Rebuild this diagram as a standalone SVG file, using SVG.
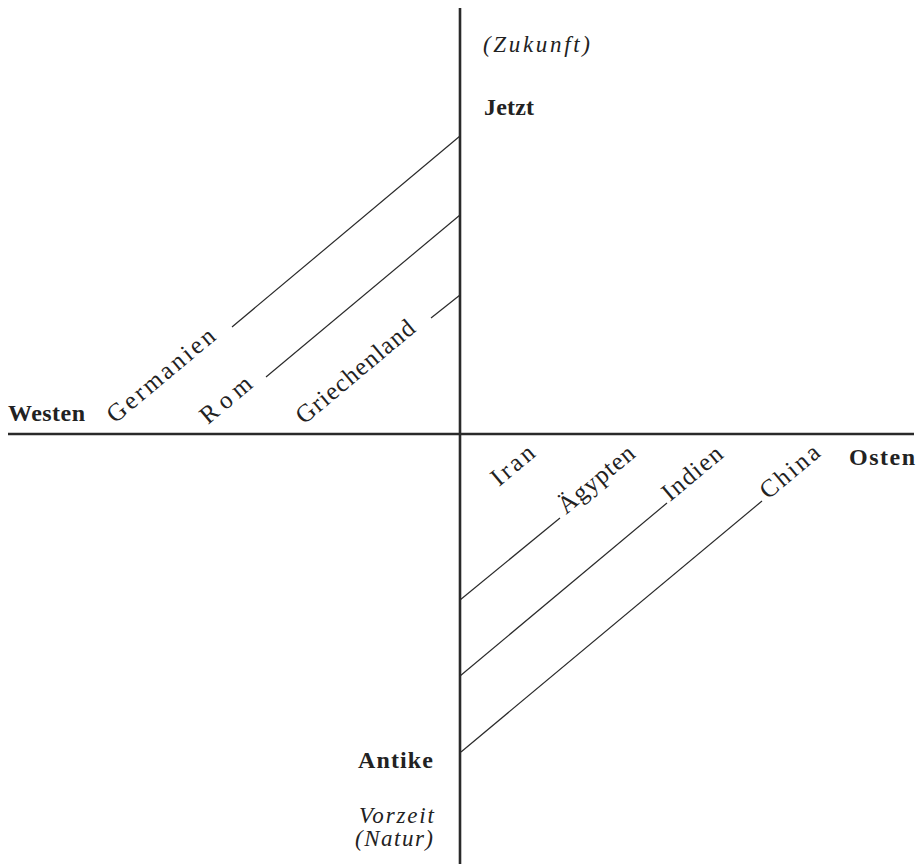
<svg xmlns="http://www.w3.org/2000/svg" width="920" height="864" viewBox="0 0 920 864">
<style>
text{font-family:"Liberation Serif","DejaVu Serif",serif;font-size:24px;fill:#222;}
.b{font-weight:bold;}
.i{font-style:italic;font-size:23px;}
.r{font-size:25px;}
.axis{stroke:#2a2a2a;stroke-width:2.6;fill:none;}
.ln{stroke:#2a2a2a;stroke-width:1.2;fill:none;}
</style>
<rect width="920" height="864" fill="#fff"/>
<g id="connectors">
<line class="axis" x1="460" y1="8" x2="460" y2="864"/>
<line class="axis" x1="8" y1="434" x2="914" y2="434"/>
<line class="ln" x1="460" y1="136" x2="232" y2="327"/>
<line class="ln" x1="460" y1="215" x2="266" y2="377"/>
<line class="ln" x1="460" y1="295" x2="431" y2="318"/>
<line class="ln" x1="460" y1="600" x2="560" y2="518"/>
<line class="ln" x1="460" y1="676" x2="667" y2="503"/>
<line class="ln" x1="461" y1="752" x2="762" y2="501"/>
</g>
<g id="zukunft"><text class="i" x="483" y="52" textLength="107" lengthAdjust="spacing">(Zukunft)</text></g>
<g id="jetzt"><text class="b" x="484" y="115" textLength="50" lengthAdjust="spacing">Jetzt</text></g>
<g id="westen"><text class="b" x="8" y="421" textLength="77" lengthAdjust="spacing">Westen</text></g>
<g id="osten"><text class="b" x="849" y="465" textLength="66" lengthAdjust="spacing">Osten</text></g>
<g id="antike"><text class="b" x="358" y="768" textLength="75" lengthAdjust="spacing">Antike</text></g>
<g id="vorzeit"><text class="i" x="359" y="823" textLength="75" lengthAdjust="spacing">Vorzeit</text></g>
<g id="natur"><text class="i" x="355" y="846" textLength="78" lengthAdjust="spacing">(Natur)</text></g>
<g id="germanien"><text class="r" transform="translate(115,424) rotate(-39.9)" textLength="133" lengthAdjust="spacing">Germanien</text></g>
<g id="rom"><text class="r" transform="translate(208,425) rotate(-39.9)" textLength="60" lengthAdjust="spacing">Rom</text></g>
<g id="griechenland"><text class="r" transform="translate(304,425) rotate(-39.9)" textLength="147" lengthAdjust="spacing">Griechenland</text></g>
<g id="iran"><text class="r" transform="translate(499,487) rotate(-39.9)" textLength="49" lengthAdjust="spacing">Iran</text></g>
<g id="aegypten"><text class="r" transform="translate(566,515) rotate(-39.9)" textLength="92" lengthAdjust="spacing">Ägypten</text></g>
<g id="indien"><text class="r" transform="translate(670,502) rotate(-39.9)" textLength="71" lengthAdjust="spacing">Indien</text></g>
<g id="china"><text class="r" transform="translate(768,500) rotate(-39.9)" textLength="70" lengthAdjust="spacing">China</text></g>
</svg>
